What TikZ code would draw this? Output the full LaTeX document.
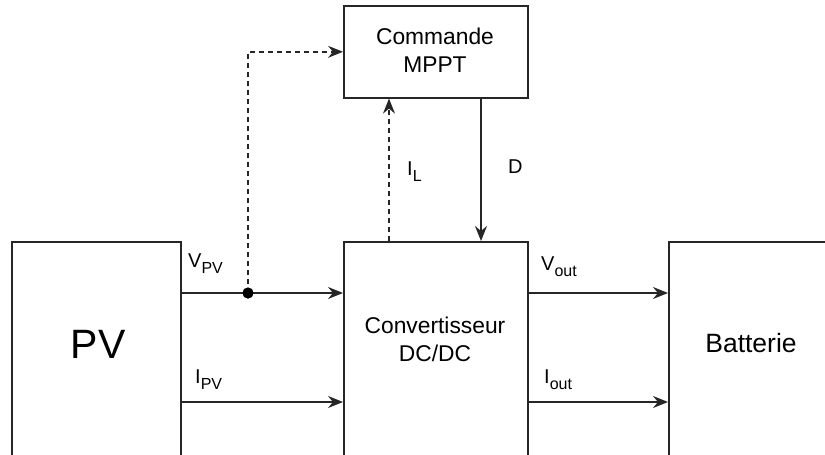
\documentclass[tikz,border=0pt]{standalone}
\usepackage{fontspec}
\setmainfont{Liberation Sans}
\usetikzlibrary{arrows.meta}
\newcommand{\lsub}[1]{\raisebox{-6.5pt}{\fontsize{16}{16}\selectfont #1}}
\tikzset{
  box/.style={draw=black!85, line width=1.6pt, fill=white, rectangle, anchor=north west, inner sep=0pt},
  conn/.style={draw=black!85, line width=1.6pt, -{Stealth[length=15pt,width=12pt,inset=5pt]}},
  dconn/.style={conn, dash pattern=on 5pt off 4pt},
  txt/.style={anchor=base, inner sep=0pt, font=\fontsize{22.8}{27}\selectfont},
  lbl/.style={anchor=base west, inner sep=0pt, font=\fontsize{20}{22}\selectfont},
  jdot/.style={circle, fill=black, inner sep=0pt, minimum size=11pt}
}
\begin{document}
\begin{tikzpicture}[x=1pt, y=-1pt]
\useasboundingbox (0,0) rectangle (825,455);
% boxes
\node[box, minimum width=169pt, minimum height=240pt] (pv) at (11,241) {};
\node[box, minimum width=184pt, minimum height=240pt] (conv) at (343,241) {};
\node[box, minimum width=170pt, minimum height=240pt] (bat) at (668,241) {};
\node[box, minimum width=184pt, minimum height=92pt] (mppt) at (343,5) {};
% texts
\node[txt] (mt1) at (435,45) {Commande};
\node[txt] (mt2) at (435,72) {MPPT};
\node[txt] (ct1) at (435,333) {Convertisseur};
\node[txt] (ct2) at (435,361) {DC/DC};
\node[txt, font=\fontsize{41}{45}\selectfont] (pvt) at (98,358) {PV};
\node[txt, font=\fontsize{26.5}{30}\selectfont] (batt) at (751,352) {Batterie};
% rows
\coordinate (vrow) at (0,293);
\coordinate (irow) at (0,402);
\coordinate (ilx) at (389,0);
\coordinate (dx) at (481,0);
% connectors
\node[jdot] (junc) at (248,293) {};
\draw[conn] (pv.east |- vrow) -- (conv.west |- vrow);
\draw[conn] (pv.east |- irow) -- (conv.west |- irow);
\draw[conn] (conv.east |- vrow) -- (bat.west |- vrow);
\draw[conn] (conv.east |- irow) -- (bat.west |- irow);
\draw[dconn] (junc.center) |- (mppt.west);
\draw[dconn] (conv.north -| ilx) -- (mppt.south -| ilx);
\draw[conn] (mppt.south -| dx) -- (conv.north -| dx);
\node[jdot] (junc2) at (junc) {};
% labels
\node[lbl] (lvpv) at (188,267) {V\lsub{PV}};
\node[lbl] (lipv) at (195,383) {I\lsub{PV}};
\node[lbl] (lil) at (407,175) {I\lsub{L}};
\node[lbl] (ld) at (508,173) {D};
\node[lbl] (lvout) at (541,270) {V\lsub{out}};
\node[lbl] (liout) at (544,383) {I\lsub{out}};
\end{tikzpicture}
\end{document}
